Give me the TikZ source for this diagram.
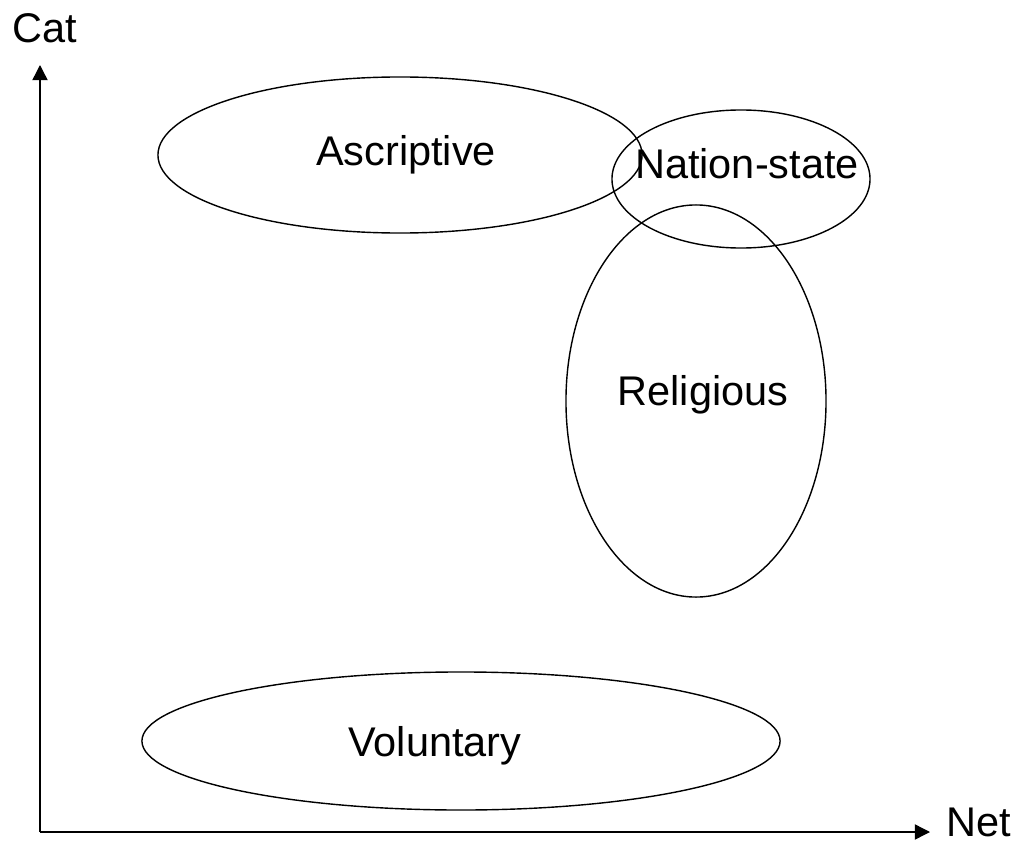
\documentclass[tikz,border=0pt]{standalone}
\usepackage{fontspec}
\setmainfont{Liberation Sans}
\usetikzlibrary{shapes, arrows.meta, positioning, calc}

\tikzset{
  group/.style={draw=black, ellipse, line width=1pt, inner sep=0pt},
  grouplabel/.style={anchor=base, inner sep=0pt, font=\fontsize{29.5}{34}\selectfont},
  axis/.style={line width=1pt, -{Triangle[length=0.38cm, width=0.38cm]}}
}

\begin{document}
\begin{tikzpicture}[x=0.025cm, y=-0.025cm]
  \useasboundingbox (0,0) rectangle (1020,841);

  % Axes
  \coordinate (origin) at (40,832);
  \coordinate (ytip) at (40,65);
  \coordinate (xtip) at (930,832);
  \draw[axis] (origin) -- (ytip);
  \draw[axis] (origin) -- (xtip);
  \node[grouplabel] (cat) at (45,43) {Cat};
  \node[grouplabel, anchor=base west] (net) at (946,836) {Net};

  % Groups
  \node[group, minimum width=12.1cm, minimum height=3.9cm] (ascriptive) at (400,155) {};
  \node[group, minimum width=6.45cm, minimum height=3.45cm] (nation) at (741,179) {};
  \node[group, minimum width=6.5cm, minimum height=9.8cm] (religious) at (696,401) {};
  \node[group, minimum width=15.95cm, minimum height=3.45cm] (voluntary) at (461,741) {};

  % Labels
  \node[grouplabel] (ascriptivetext) at (406,165) {Ascriptive};
  \node[grouplabel] (nationtext) at (747,178) {Nation-state};
  \node[grouplabel] (religioustext) at (703,405) {Religious};
  \node[grouplabel] (voluntarytext) at (435,756) {Voluntary};
\end{tikzpicture}
\end{document}
